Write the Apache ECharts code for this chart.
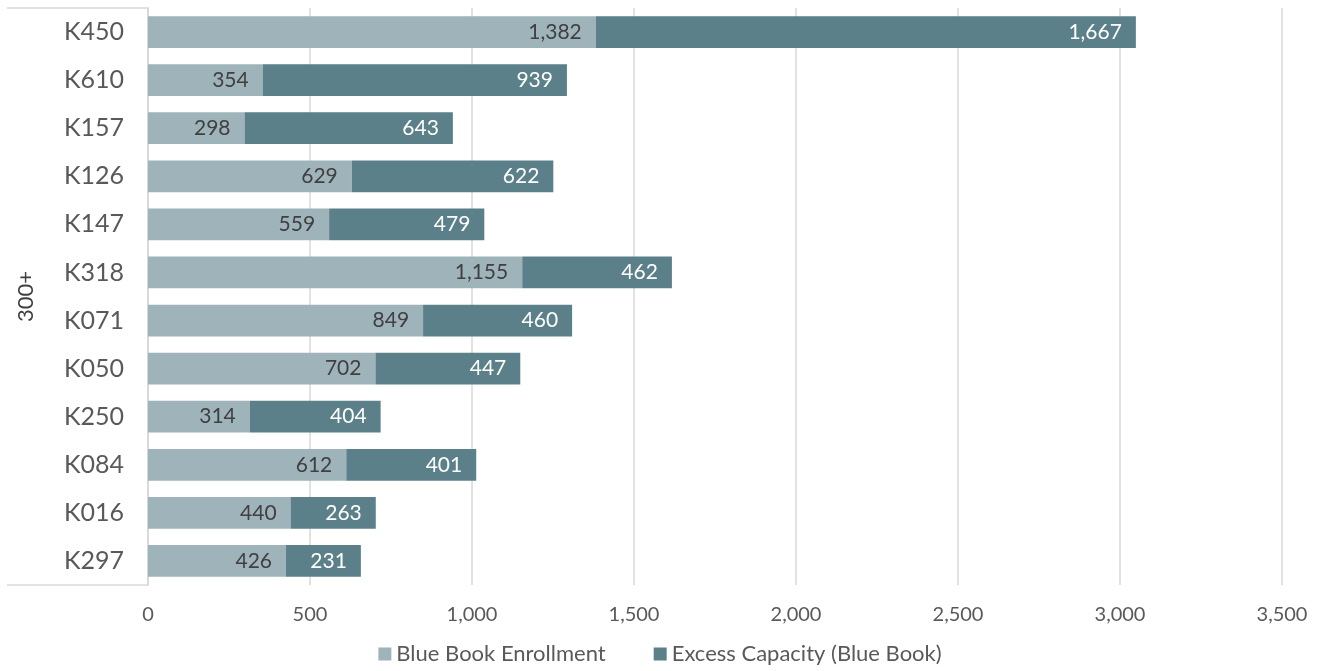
<!DOCTYPE html>
<html><head><meta charset="utf-8">
<script src="https://cdn.jsdelivr.net/npm/echarts@6/dist/echarts.min.js"></script>
<style>html,body{margin:0;padding:0;background:#fff}#c{width:1320px;height:671px}</style>
</head><body><div id="c"></div>
<script>
const categories = ['K450','K610','K157','K126','K147','K318','K071','K050','K250','K084','K016','K297'];
const enrollment = [1382,354,298,629,559,1155,849,702,314,612,440,426];
const excess = [1667,939,643,622,479,462,460,447,404,401,263,231];
const groupLabel = ['300+'];
const xTicks = {min:0, max:3500, interval:500};

const FONT = 'Lato';
const fmt = v => Number(v).toLocaleString('en-US');
const chart = echarts.init(document.getElementById('c'));
chart.setOption({
  animation:false,
  textStyle:{fontFamily:FONT},
  grid:{left:148, right:38, top:8, bottom:86},
  legend:{
    bottom:1, left:'center', itemWidth:13, itemHeight:13, itemGap:48,
    icon:'rect',
    textStyle:{fontFamily:FONT, fontSize:22, color:'#595959'},
    data:['Blue Book Enrollment','Excess Capacity (Blue Book)']
  },
  xAxis:{
    type:'value', min:xTicks.min, max:xTicks.max, interval:xTicks.interval,
    axisLine:{show:false}, axisTick:{show:false},
    axisLabel:{fontFamily:FONT, fontSize:20, color:'#595959', margin:20, formatter:fmt},
    splitLine:{lineStyle:{color:'#d9d9d9', width:1.5}}
  },
  yAxis:[{
    type:'category', data:categories, inverse:true,
    axisLine:{lineStyle:{color:'#d9d9d9', width:1.5}},
    axisTick:{show:false},
    axisLabel:{fontFamily:FONT, fontSize:25, color:'#595959', margin:24}
  },{
    type:'category', data:groupLabel, position:'left',
    axisLine:{show:true, lineStyle:{color:'#d9d9d9', width:1.5}},
    axisTick:{show:true, length:141, lineStyle:{color:'#d9d9d9', width:1.5}},
    axisLabel:{fontFamily:FONT, fontSize:22, color:'#404040', rotate:90, margin:111}
  }],
  series:[{
    name:'Blue Book Enrollment', type:'bar', stack:'a', data:enrollment,
    barCategoryGap:'34%',
    itemStyle:{color:'#9eb3ba'},
    label:{show:true, position:'insideRight', fontFamily:FONT, fontSize:21, color:'#404040', formatter:p=>fmt(p.value), distance:14}
  },{
    name:'Excess Capacity (Blue Book)', type:'bar', stack:'a', data:excess,
    barCategoryGap:'34%',
    itemStyle:{color:'#5b808a'},
    label:{show:true, position:'insideRight', fontFamily:FONT, fontSize:21, color:'#ffffff', formatter:p=>fmt(p.value), distance:14}
  }]
});
</script></body></html>
